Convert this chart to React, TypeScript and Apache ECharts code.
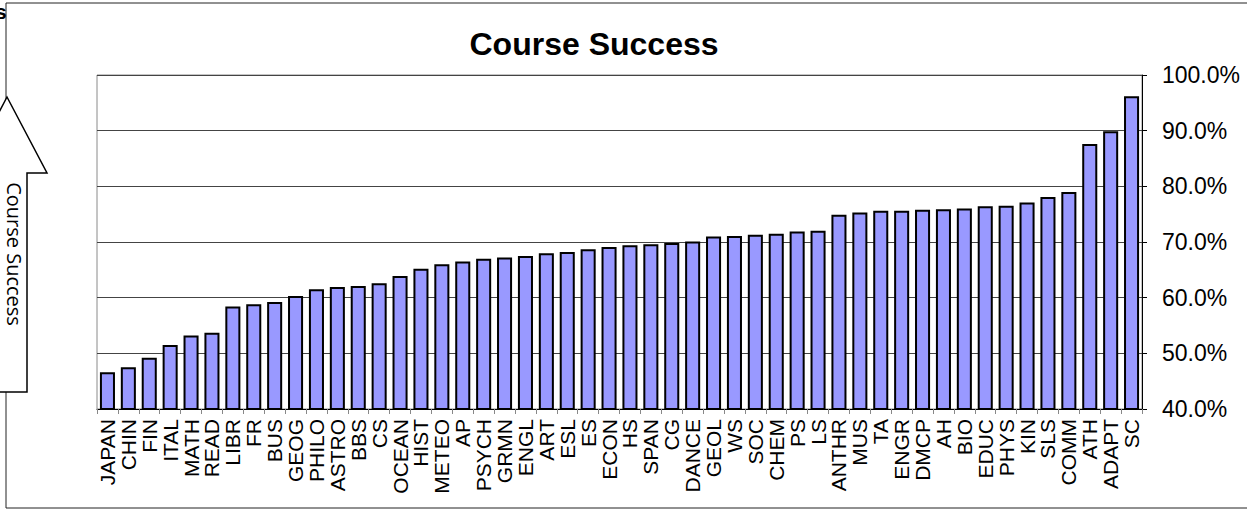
import React, { useEffect, useRef } from "react";
import * as echarts from "echarts";

const categories: string[] = [
  "JAPAN", "CHIN", "FIN", "ITAL", "MATH", "READ", "LIBR", "FR", "BUS", "GEOG",
  "PHILO", "ASTRO", "BBS", "CS", "OCEAN", "HIST", "METEO", "AP", "PSYCH", "GRMN",
  "ENGL", "ART", "ESL", "ES", "ECON", "HS", "SPAN", "CG", "DANCE", "GEOL",
  "WS", "SOC", "CHEM", "PS", "LS", "ANTHR", "MUS", "TA", "ENGR", "DMCP",
  "AH", "BIO", "EDUC", "PHYS", "KIN", "SLS", "COMM", "ATH", "ADAPT", "SC",
];

const successRates: number[] = [
  46.6, 47.5, 49.2, 51.5, 53.2, 53.7, 58.4, 58.8, 59.2, 60.3,
  61.5, 61.9, 62.1, 62.6, 63.9, 65.2, 66.0, 66.5, 67.0, 67.2,
  67.5, 68.0, 68.2, 68.7, 69.1, 69.4, 69.6, 69.8, 70.1, 71.0,
  71.1, 71.3, 71.5, 71.9, 72.0, 74.9, 75.3, 75.6, 75.6, 75.8,
  75.9, 76.0, 76.4, 76.5, 77.1, 78.1, 79.0, 87.6, 89.9, 96.2,
];

const yTicks = { min: 40, max: 100, interval: 10 };
const chartTitle = "Course Success";
const arrowLabel = "Course Success";

export default function App() {
  const ref = useRef<HTMLDivElement>(null);

  useEffect(() => {
    if (!ref.current) return;
    const chart = echarts.init(ref.current, null, { renderer: "svg" });
    const font = "'Liberation Sans', Arial, sans-serif";
    chart.setOption({
      animation: false,
      backgroundColor: "#ffffff",
      grid: {
        left: 97,
        right: 105,
        top: 75,
        bottom: 101,
        containLabel: false,
        show: true,
        borderColor: "#8a8a8a",
        borderWidth: 1,
        backgroundColor: "transparent",
      },
      xAxis: {
        type: "category",
        data: categories,
        axisLine: { show: true, lineStyle: { color: "#000", width: 1 } },
        axisTick: { show: true, alignWithLabel: false, length: 5, lineStyle: { color: "#888" } },
        axisLabel: {
          rotate: 90,
          interval: 0,
          margin: 10,
          fontFamily: font,
          fontSize: 21,
          color: "#000",
        },
        splitLine: { show: false },
      },
      yAxis: {
        type: "value",
        position: "right",
        min: yTicks.min,
        max: yTicks.max,
        interval: yTicks.interval,
        axisLine: { show: true, lineStyle: { color: "#000", width: 1 } },
        axisTick: { show: true, length: 5, lineStyle: { color: "#000" } },
        axisLabel: {
          margin: 20,
          fontFamily: font,
          fontSize: 23,
          color: "#000",
          formatter: (v: number) => v.toFixed(1) + "%",
        },
        splitLine: { show: true, lineStyle: { color: "#444", width: 1 } },
      },
      series: [
        {
          type: "bar",
          data: successRates,
          barWidth: "72%",
          itemStyle: {
            color: "#9999FF",
            borderColor: "#000",
            borderWidth: 2,
          },
        },
      ],
      graphic: [
        {
          type: "rect",
          shape: { x: 6, y: 3, width: 1300, height: 505 },
          style: { fill: "none", stroke: "#222", lineWidth: 1 },
          silent: true,
          z: 0,
        },
        {
          type: "text",
          x: 594,
          y: 44,
          style: {
            text: chartTitle,
            font: "bold 32px " + font,
            fill: "#000",
            align: "center",
            verticalAlign: "middle",
          },
          z: 10,
        },
        {
          type: "text",
          x: -5,
          y: 1,
          style: {
            text: "s",
            font: "bold 21px " + font,
            fill: "#000",
            align: "left",
            verticalAlign: "top",
          },
          z: 10,
        },
        {
          type: "polygon",
          shape: {
            points: [
              [7, 97],
              [47, 173],
              [27, 173],
              [27, 392],
              [-13, 392],
              [-13, 173],
              [-33, 173],
            ],
          },
          style: { fill: "#fff", stroke: "#000", lineWidth: 1.5 },
          z: 10,
        },
        {
          type: "text",
          x: 14,
          y: 254,
          rotation: -Math.PI / 2,
          style: {
            text: arrowLabel,
            font: "20px 'Open Sans', 'Noto Sans', sans-serif",
            fill: "#000",
            align: "center",
            verticalAlign: "middle",
          },
          z: 11,
        },
      ],
    });
    return () => chart.dispose();
  }, []);

  return (
    <div
      ref={ref}
      style={{ position: "fixed", left: 0, top: 0, width: 1247, height: 510 }}
    />
  );
}
